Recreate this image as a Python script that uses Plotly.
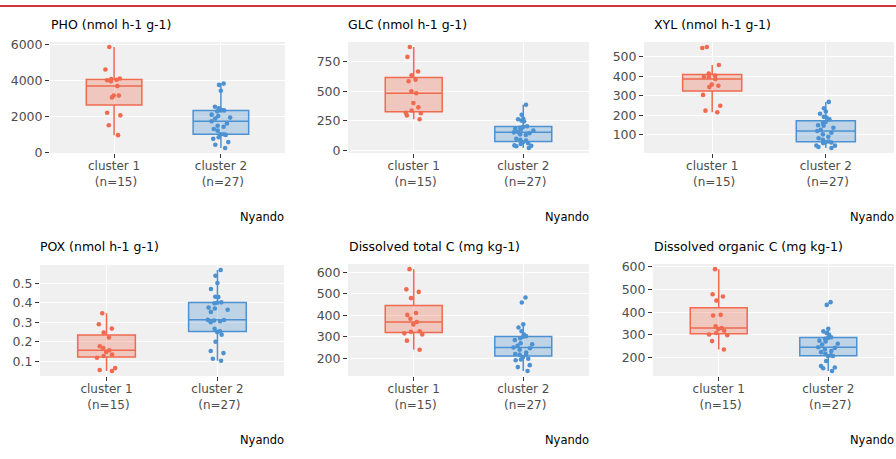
import plotly.graph_objects as go

W, H = 896, 459

# ---------------- data ----------------
titles = ["PHO (nmol h-1 g-1)", "GLC (nmol h-1 g-1)", "XYL (nmol h-1 g-1)",
          "POX (nmol h-1 g-1)", "Dissolved total C (mg kg-1)", "Dissolved organic C (mg kg-1)"]
categories = ["cluster 1<br> (n=15)", "cluster 2<br> (n=27)"]
caption = "Nyando"
dticks = [2000, 250, 100, 0.1, 100, 100]

pho_c1 = [950, 1500, 2050, 2200, 3050, 3150, 3150, 3680, 3950, 4000, 4030, 4070, 4100, 4600, 5850]
pho_c2 = [236, 418, 564, 745, 836, 964, 1000, 1000, 1200, 1291, 1418, 1473, 1600, 1727, 1873, 1927,
          2018, 2091, 2273, 2327, 2327, 2350, 2450, 2527, 3418, 3745, 3818]
glc_c1 = [264, 297, 316, 319, 338, 365, 401, 484, 500, 585, 599, 635, 668, 791, 874]
glc_c2 = [22, 36, 40, 44, 55, 63, 70, 85, 91, 99, 132, 137, 146, 154, 159, 170, 179, 187, 192, 200,
          205, 247, 253, 264, 269, 302, 387]
xyl_c1 = [216, 224, 249, 305, 345, 352, 358, 387, 397, 397, 405, 415, 459, 546, 551]
xyl_c2 = [32, 37, 44, 45, 57, 60, 62, 65, 74, 82, 90, 102, 110, 119, 125, 136, 146, 149, 160, 166,
          179, 189, 192, 208, 219, 236, 269]
pox_c1 = [0.05, 0.055, 0.065, 0.118, 0.127, 0.135, 0.148, 0.157, 0.168, 0.177, 0.222, 0.248, 0.268,
          0.29, 0.347]
pox_c2 = [0.103, 0.113, 0.142, 0.153, 0.200, 0.237, 0.251, 0.254, 0.267, 0.301, 0.306, 0.310, 0.312,
          0.313, 0.354, 0.365, 0.371, 0.376, 0.398, 0.401, 0.403, 0.430, 0.432, 0.472, 0.502, 0.540, 0.569]
dtc_c1 = [240, 282, 311, 316, 323, 326, 357, 369, 384, 402, 411, 480, 509, 521, 615]
dtc_c2 = [141, 159, 168, 191, 194, 198, 205, 217, 217, 220, 227, 240, 247, 250, 258, 265, 270, 285,
          293, 300, 303, 311, 326, 343, 358, 460, 483]
doc_c1 = [235, 272, 298, 301, 308, 318, 325, 330, 337, 385, 388, 451, 469, 479, 590]
doc_c2 = [140, 152, 155, 162, 184, 206, 206, 209, 216, 223, 228, 235, 242, 245, 257, 260, 270, 274,
          282, 286, 289, 301, 308, 315, 326, 432, 444]

series = [(pho_c1, pho_c2), (glc_c1, glc_c2), (xyl_c1, xyl_c2),
          (pox_c1, pox_c2), (dtc_c1, dtc_c2), (doc_c1, doc_c2)]

# ---------------- style / layout (pixels) ----------------
colors = ["#F06A4F", "#4C92D2"]
fills = ["rgba(240,106,79,0.3)", "rgba(76,146,210,0.3)"]
FONT = "DejaVu Sans"

# panel rectangles: left, right, top, bottom
panels_px = [(50, 285, 38, 152), (348, 589, 38, 152), (644, 894, 38, 152),
             (40, 284, 267, 381), (348, 589, 266, 381), (653, 894, 266, 381)]
title_px = [(49, 20), (346, 20), (652, 20), (38, 248), (347, 248), (652, 248)]
caption_px = [(286, 218), (591, 218), (896, 218), (286, 447), (591, 447), (896, 447)]

fig = go.Figure()
annotations = []
layout = {}

for i, ((c1, c2), (l, r, t, b)) in enumerate(zip(series, panels_px)):
    k = "" if i == 0 else str(i + 1)
    xa, ya = "x" + k, "y" + k
    for j, vals in enumerate((c1, c2)):
        fig.add_trace(go.Box(
            y=vals, x=[categories[j]] * len(vals),
            xaxis=xa, yaxis=ya,
            boxpoints="all", pointpos=0, jitter=0.4,
            width=0.52, whiskerwidth=0,
            quartilemethod="inclusive",
            fillcolor=fills[j],
            line=dict(color=colors[j], width=1.5),
            marker=dict(color=colors[j], size=4.6, opacity=1),
            showlegend=False, hoverinfo="y",
        ))
    allv = list(c1) + list(c2)
    lo, hi = min(allv), max(allv)
    pad = 0.05 * (hi - lo)
    layout["xaxis" + k] = dict(
        domain=[l / W, r / W], anchor=ya, type="category",
        categoryorder="array", categoryarray=categories,
        range=[-0.6, 1.6], showgrid=True, gridcolor="white", gridwidth=1.2,
        zeroline=False, showline=False,
        ticks="outside", ticklen=4, tickcolor="#333333", tickwidth=1,
        ticklabelstandoff=-2,
        tickfont=dict(family=FONT, size=12, color="#4D4D4D"),
        fixedrange=True,
    )
    layout["yaxis" + k] = dict(
        domain=[1 - b / H, 1 - t / H], anchor=xa,
        range=[lo - pad, hi + pad], dtick=dticks[i], tick0=0,
        showgrid=True, gridcolor="white", gridwidth=1.2,
        zeroline=False, showline=False,
        ticks="outside", ticklen=4, tickcolor="#333333", tickwidth=1,
        tickfont=dict(family=FONT, size=12.5, color="#4D4D4D"),
        fixedrange=True,
    )
    tx, ty = title_px[i]
    annotations.append(dict(text=titles[i], x=tx / W, y=1 - ty / H, xref="paper", yref="paper",
                            xanchor="left", yanchor="middle", showarrow=False,
                            font=dict(family=FONT, size=12.5, color="black")))
    cx, cy = caption_px[i]
    annotations.append(dict(text=caption, x=cx / W, y=1 - cy / H, xref="paper", yref="paper",
                            xanchor="right", yanchor="middle", showarrow=False,
                            font=dict(family=FONT, size=11.5, color="black")))

fig.update_layout(
    width=W, height=H, autosize=False,
    margin=dict(l=0, r=0, t=0, b=0),
    paper_bgcolor="white", plot_bgcolor="#F0F0F0",
    annotations=annotations,
    shapes=[dict(type="rect", xref="paper", yref="paper", x0=0, x1=1,
                 y0=1 - 2 / H, y1=1, line=dict(width=0), fillcolor="#D3343A")],
    **layout,
)

fig.write_html(
    "out.html",
    config={"displayModeBar": False},
    post_script="document.body.style.margin='0';document.body.style.overflow='hidden';",
)
